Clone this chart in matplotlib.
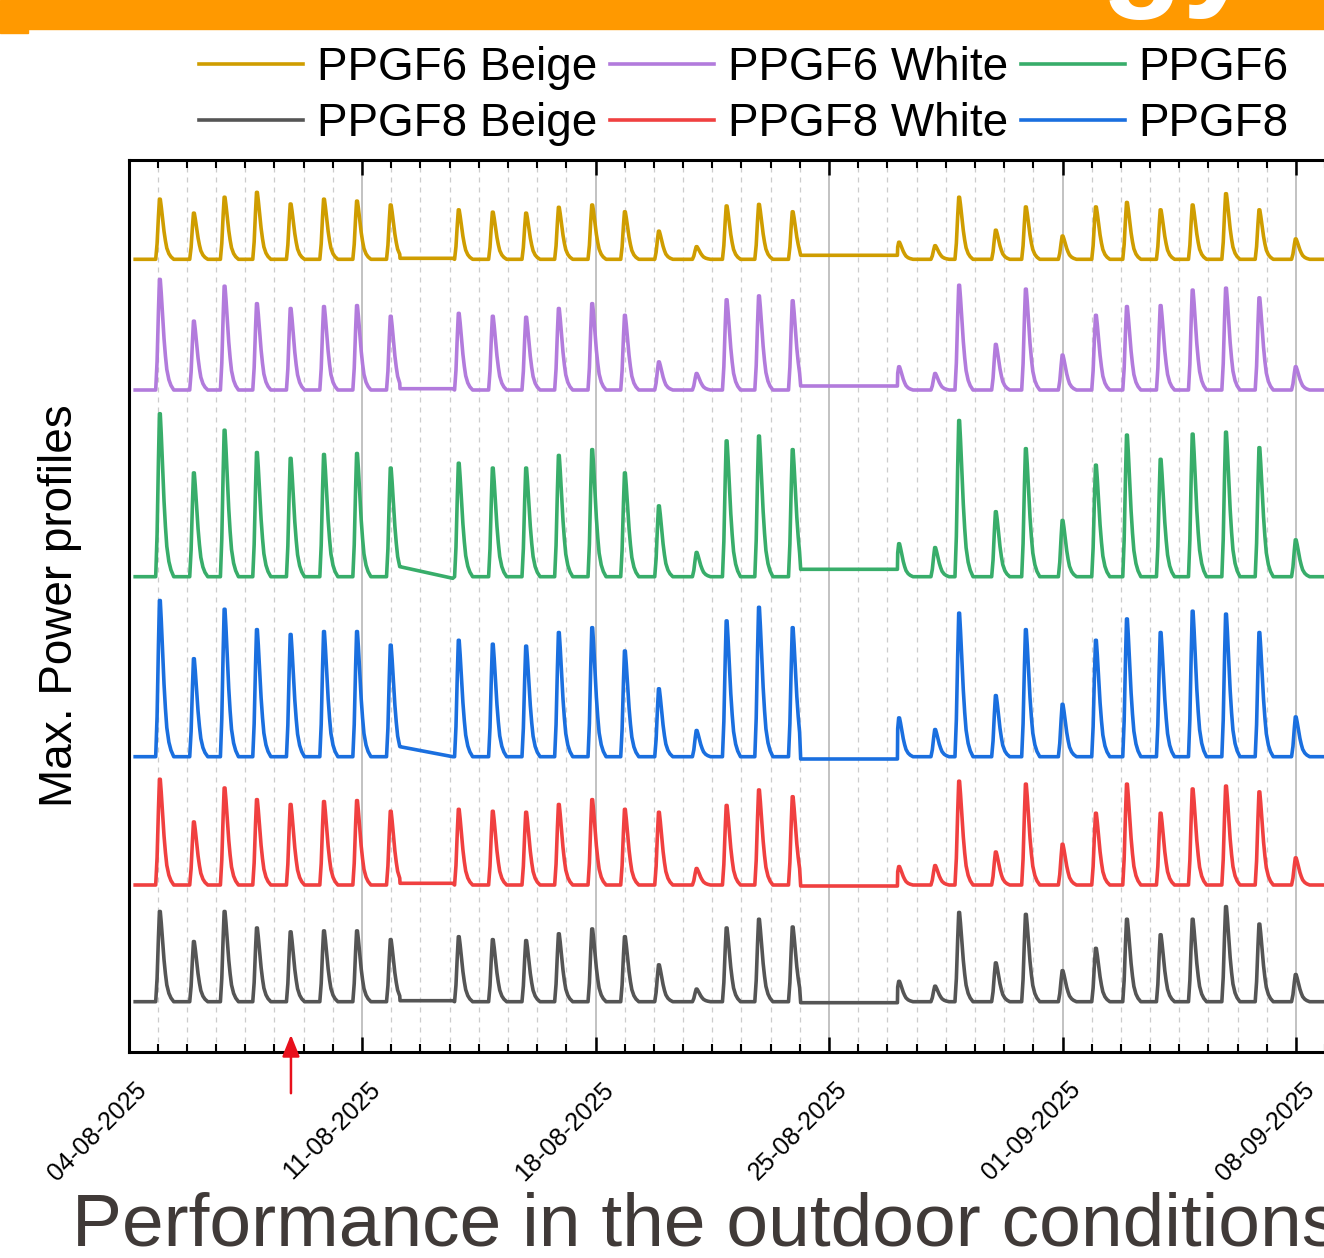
import numpy as np
import matplotlib.pyplot as plt
from matplotlib.patches import Rectangle
from matplotlib.ticker import MultipleLocator

plt.rcParams['font.family'] = ['Liberation Sans', 'DejaVu Sans']


# Days since 04-08-2025 00:00 at which each daily maximum was logged
peak_day = [0.94, 1.96, 2.88, 3.85, 4.86, 5.86, 6.85, 7.86,
            9.90, 10.92, 11.92, 12.90, 13.90, 14.88, 15.90, 17.03, 17.93, 18.90, 19.91,
            23.10, 24.18, 24.90, 26.00, 26.90, 28.00, 29.00, 29.93, 30.94, 31.90, 32.90, 33.90, 34.99]

# Logging gaps (no samples in between)
gap_start = [8.14, 20.15]
gap_end = [9.72, 23.05]

# Shape of one daily peak: hours from the maximum, fraction of the maximum
shape_hours = [-3.0, -2.0, -1.0, -0.3, 0.3, 1.0, 2.0, 3.0, 4.0, 5.0, 6.5, 8.0, 10.0]
shape_frac = [0.0, 0.25, 0.7, 0.97, 0.97, 0.85, 0.65, 0.45, 0.3, 0.18, 0.09, 0.04, 0.0]

# Daily maximum power (a.u.)
ppgf6_beige = [62, 47.6, 64, 69, 57, 62, 60, 56,
               51, 48.6, 47.6, 53.6, 56, 49, 29, 13, 55, 56.6, 49,
               17.6, 14, 64, 30, 54, 24, 54, 58.6, 51, 56, 67.6, 51, 21]
ppgf6_white = [114, 71, 107, 89, 84, 86, 87, 76,
               79, 76, 75, 84, 89, 77, 29, 17, 93, 97, 92,
               24, 17, 108, 47, 104, 36, 77, 86, 87, 103, 105, 95, 24]
ppgf6 = [168, 107, 151, 128, 122, 126, 127, 112,
         117, 112, 112, 125, 131, 107, 73, 25, 140, 145, 131,
         34, 30, 161, 67, 132, 58, 115, 146, 121, 147, 149, 133, 38]
ppgf8 = [161, 101, 152, 131, 126, 129, 129, 115,
         120, 116, 114, 128, 133, 109, 70, 27, 140, 154, 133,
         40, 28, 148, 63, 131, 54, 120, 142, 128, 150, 147, 128, 41]
ppgf8_white = [109, 65, 100, 88, 83, 86, 87, 76,
               78, 76, 75, 83, 88, 78, 75, 17, 82, 98, 91,
               19, 20, 107, 34, 104, 42, 74, 104, 74, 99, 102, 96, 28]
ppgf8_beige = [93, 62, 93, 76, 72, 73, 73, 64,
               67, 64, 63, 70, 75, 67, 38, 13, 76, 85, 77,
               21, 16, 92, 40, 90, 32, 55, 85, 69, 85, 98, 80, 28]

# Level across the gaps, relative to each baseline: [gap1 start, gap1 end, gap2 start, gap2 end]
gap_level_beige6 = [1, 1, 4, 4]
gap_level_white6 = [1.3, 1.3, 4, 4]
gap_level_ppgf6 = [10, -1.6, 7.4, 7.4]
gap_level_ppgf8 = [10, 0, -2.3, -2.3]
gap_level_white8 = [1.7, 1.7, -1, -1]
gap_level_beige8 = [1, 1, -1, -1]

date_labels = ['04-08-2025', '11-08-2025', '18-08-2025', '25-08-2025', '01-09-2025', '08-09-2025']
date_days = [0, 7, 14, 21, 28, 35]


def build_series(heights, base, levels):
    pts = [(0.2, base), (36.6, base)]
    for pk, h in zip(peak_day, heights):
        for dh, f in zip(shape_hours, shape_frac):
            t = pk + dh / 24
            if any(gs < t < ge for gs, ge in zip(gap_start, gap_end)):
                continue
            pts.append((t, base + h * f))
    for k, (gs, ge) in enumerate(zip(gap_start, gap_end)):
        pts.append((gs, base + levels[2 * k]))
        pts.append((ge, base + levels[2 * k + 1]))
    pts.sort()
    t, y = zip(*pts)
    return np.array(t), np.array(y)


# Plotting Graph
fig = plt.figure(figsize=(13.24, 12.58), dpi=100)
ax = fig.add_axes([128.5 / 1324, 206 / 1258, 1217.6 / 1324, 892 / 1258])

series = [
    ('PPGF6 Beige', ppgf6_beige, 792.7, gap_level_beige6, '#cf9d00'),
    ('PPGF6 White', ppgf6_white, 662.0, gap_level_white6, '#b27bdc'),
    ('PPGF6', ppgf6, 475.3, gap_level_ppgf6, '#38ad6a'),
    ('PPGF8', ppgf8, 295.3, gap_level_ppgf8, '#1a6fdf'),
    ('PPGF8 White', ppgf8_white, 167.0, gap_level_white8, '#f04040'),
    ('PPGF8 Beige', ppgf8_beige, 50.3, gap_level_beige8, '#555555'),
]
lines = {}
for name, vals, base, lev, col in series:
    t, y = build_series(vals, base, lev)
    lines[name], = ax.plot(t, y, color=col, lw=2.6, label=name)

ax.set_xlim(0, 36.5)
ax.set_ylim(0, 892)
ax.xaxis.set_major_locator(MultipleLocator(7))
ax.xaxis.set_minor_locator(MultipleLocator(7 / 8))
ax.set_yticks([])
ax.tick_params(which='both', direction='in', top=True, bottom=True,
               labelbottom=False, left=False, labelleft=False)
ax.tick_params(which='major', length=10.8, width=1.8)
ax.tick_params(which='minor', length=5.8, width=1.5)
ax.grid(which='major', axis='x', color='#b8b8b8', lw=1.2)
ax.grid(which='minor', axis='x', color='#cccccc', lw=0.9, ls=(0, (4, 4)))
ax.set_axisbelow(True)
for s in ['left', 'top', 'bottom']:
    ax.spines[s].set_linewidth(2.2)
ax.spines['right'].set_visible(False)

for d, lab in zip(date_days, date_labels):
    ax.annotate(lab, xy=(d, 0), xycoords=('data', 'axes fraction'),
                xytext=(14, -28), textcoords='offset points', rotation=45,
                rotation_mode='anchor', ha='right', va='baseline', fontsize=18)

ax.set_ylabel('Max. Power profiles', fontsize=33)
ax.yaxis.set_label_coords(-0.0378, 0.5)

ax.annotate('', xy=(4.87, 20), xytext=(4.87, -44), annotation_clip=False,
            arrowprops=dict(arrowstyle='-|>,head_length=0.55,head_width=0.22',
                            mutation_scale=24, color='#e8101c', lw=1.8))

order = ['PPGF6 Beige', 'PPGF8 Beige', 'PPGF6 White', 'PPGF8 White', 'PPGF6', 'PPGF8']
ax.legend([lines[n] for n in order], order, ncol=3, loc='center',
          bbox_to_anchor=(744 / 1324, 1 - 96 / 1258), bbox_transform=fig.transFigure,
          frameon=False, fontsize=33, handlelength=2.27, handletextpad=0.3,
          columnspacing=0.28, labelspacing=0.28, borderpad=0, borderaxespad=0)

# Slide decorations
fig.patches.append(Rectangle((0, 1 - 29 / 1258), 1, 29 / 1258, transform=fig.transFigure,
                             color='#ff9900', zorder=0))
fig.patches.append(Rectangle((0, 1 - 33 / 1258), 28 / 1324, 4 / 1258, transform=fig.transFigure,
                             color='#ff9900', zorder=0))
fig.text(1101 / 1324, 1 + 9 / 1258, 'gy', fontsize=97, fontweight='bold', color='white',
         ha='left', va='baseline')
fig.text(72 / 1324, 13 / 1258, 'Performance in the outdoor conditions', fontsize=54,
         color='#403a38', ha='left', va='baseline')

fig.savefig('out.png', dpi=100)
